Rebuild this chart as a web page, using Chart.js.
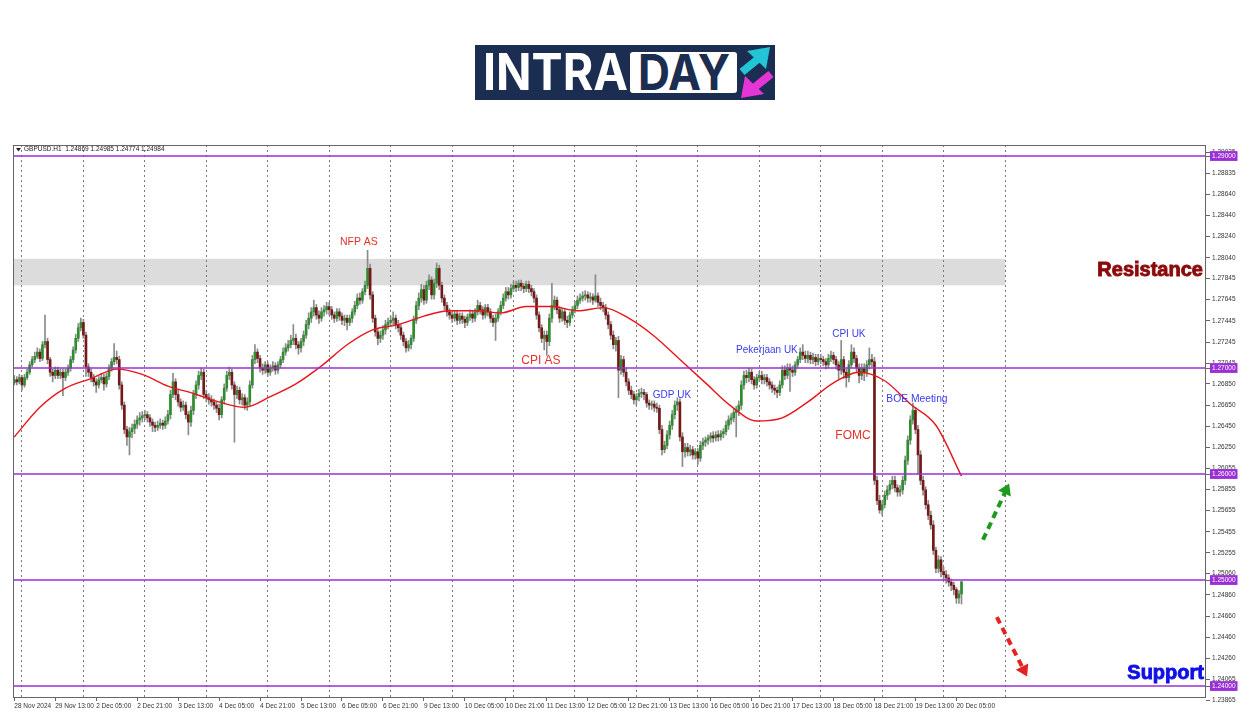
<!DOCTYPE html>
<html lang="en">
<head>
<meta charset="UTF-8">
<title>GBPUSD H1 - Intraday</title>
<script src="https://cdn.jsdelivr.net/npm/chart.js"></script>
<style>
  body { margin: 0; background: #fff; }
  #wrap { position: relative; width: 1250px; height: 716px; overflow: hidden; }
  #chart { position: absolute; left: 0; top: 0; }
  .logo { position: absolute; left: 475px; top: 45px; }
</style>
</head>
<body>
<div id="wrap">
  <svg class="logo" width="300" height="55" viewBox="0 0 300 55">
    <rect width="300" height="55" fill="#1b2d50"/>
    <text x="8" y="45" font-family="Inter, 'Open Sans', sans-serif" font-weight="700" font-size="51" fill="#fff"
          textLength="145" lengthAdjust="spacingAndGlyphs">INTRA</text>
    <rect x="155" y="7" width="107" height="41" rx="3" fill="#fff"/>
    <text x="163" y="45" font-family="Inter, 'Open Sans', sans-serif" font-weight="700" font-size="49" fill="#1b2d50"
          textLength="92" lengthAdjust="spacingAndGlyphs">DAY</text>
    <line x1="267" y1="27" x2="283" y2="14" stroke="#22c5d5" stroke-width="8"/>
    <polygon points="295,2 272,6 291,24" fill="#22c5d5"/>
    <line x1="296" y1="29" x2="280" y2="42" stroke="#e535d6" stroke-width="8"/>
    <polygon points="266,53 270,31 289,49" fill="#e535d6"/>
  </svg>
  <canvas id="chart" width="1250" height="716"></canvas>
</div>

<script>
// ---- data (GBPUSD H1, 28 Nov 21:00 -> 20 Dec 07:00) ----
const symbol = 'GBPUSD.H1';
const firstOpen = 1.2686;

const closes = [
  1.2689, 1.2687, 1.2691, 1.2684, 1.2691, 1.2696, 1.2703, 1.2708, 1.2711, 1.2715,
  1.2709, 1.2722, 1.2725, 1.2708, 1.2696, 1.2693, 1.2698, 1.2693, 1.2696, 1.2691,
  1.2696, 1.2700, 1.2708, 1.2717, 1.2728, 1.2738, 1.2743, 1.2731, 1.2701, 1.2696,
  1.2691, 1.2687, 1.2684, 1.2689, 1.2691, 1.2685, 1.2692, 1.2700, 1.2706, 1.2710,
  1.2708, 1.2684, 1.2665, 1.2642, 1.2635, 1.2640, 1.2643, 1.2647, 1.2651, 1.2653,
  1.2655, 1.2656, 1.2653, 1.2649, 1.2646, 1.2644, 1.2646, 1.2648, 1.2646, 1.2650,
  1.2656, 1.2675, 1.2687, 1.2675, 1.2668, 1.2663, 1.2665, 1.2656, 1.2649, 1.2660,
  1.2675, 1.2684, 1.2693, 1.2696, 1.2675, 1.2672, 1.2670, 1.2668, 1.2665, 1.2662,
  1.2656, 1.2670, 1.2681, 1.2693, 1.2696, 1.2684, 1.2675, 1.2679, 1.2670, 1.2672,
  1.2665, 1.2668, 1.2684, 1.2708, 1.2715, 1.2709, 1.2700, 1.2698, 1.2703, 1.2696,
  1.2700, 1.2702, 1.2698, 1.2703, 1.2708, 1.2715, 1.2719, 1.2722, 1.2726, 1.2728,
  1.2722, 1.2719, 1.2725, 1.2731, 1.2741, 1.2747, 1.2753, 1.2757, 1.2750, 1.2747,
  1.2753, 1.2755, 1.2758, 1.2755, 1.2750, 1.2747, 1.2753, 1.2749, 1.2745, 1.2747,
  1.2743, 1.2747, 1.2753, 1.2759, 1.2766, 1.2764, 1.2772, 1.2778, 1.2794, 1.2769,
  1.2747, 1.2734, 1.2728, 1.2731, 1.2736, 1.2741, 1.2743, 1.2745, 1.2747, 1.2741,
  1.2738, 1.2731, 1.2725, 1.2719, 1.2722, 1.2728, 1.2745, 1.2759, 1.2766, 1.2774,
  1.2764, 1.2778, 1.2783, 1.2769, 1.2780, 1.2794, 1.2778, 1.2766, 1.2759, 1.2753,
  1.2750, 1.2747, 1.2751, 1.2745, 1.2749, 1.2746, 1.2743, 1.2748, 1.2751, 1.2747,
  1.2753, 1.2759, 1.2755, 1.2750, 1.2757, 1.2753, 1.2747, 1.2743, 1.2747, 1.2753,
  1.2759, 1.2766, 1.2772, 1.2769, 1.2775, 1.2778, 1.2776, 1.2780, 1.2777, 1.2775,
  1.2779, 1.2775, 1.2772, 1.2766, 1.2750, 1.2738, 1.2728, 1.2731, 1.2725, 1.2747,
  1.2759, 1.2764, 1.2755, 1.2747, 1.2753, 1.2745, 1.2743, 1.2750, 1.2755, 1.2759,
  1.2764, 1.2766, 1.2768, 1.2769, 1.2766, 1.2767, 1.2764, 1.2768, 1.2762, 1.2759,
  1.2757, 1.2750, 1.2741, 1.2731, 1.2722, 1.2726, 1.2698, 1.2708, 1.2696, 1.2687,
  1.2679, 1.2675, 1.2670, 1.2673, 1.2676, 1.2677, 1.2675, 1.2667, 1.2665, 1.2666,
  1.2663, 1.2662, 1.2642, 1.2623, 1.2627, 1.2637, 1.2646, 1.2656, 1.2665, 1.2668,
  1.2635, 1.2621, 1.2625, 1.2621, 1.2623, 1.2618, 1.2621, 1.2615, 1.2627, 1.2630,
  1.2632, 1.2634, 1.2636, 1.2634, 1.2637, 1.2635, 1.2638, 1.2640, 1.2646, 1.2651,
  1.2653, 1.2658, 1.2660, 1.2665, 1.2684, 1.2693, 1.2691, 1.2696, 1.2689, 1.2684,
  1.2691, 1.2693, 1.2689, 1.2691, 1.2687, 1.2684, 1.2681, 1.2679, 1.2677, 1.2684,
  1.2698, 1.2693, 1.2700, 1.2698, 1.2696, 1.2703, 1.2708, 1.2715, 1.2712, 1.2709,
  1.2712, 1.2708, 1.2710, 1.2706, 1.2709, 1.2708, 1.2706, 1.2703, 1.2709, 1.2712,
  1.2708, 1.2703, 1.2698, 1.2708, 1.2696, 1.2691, 1.2703, 1.2715, 1.2709, 1.2700,
  1.2693, 1.2700, 1.2696, 1.2703, 1.2708, 1.2706, 1.2594, 1.2575, 1.2566, 1.2571,
  1.2580, 1.2585, 1.2590, 1.2594, 1.2587, 1.2583, 1.2585, 1.2594, 1.2613, 1.2632,
  1.2651, 1.2660, 1.2642, 1.2618, 1.2594, 1.2585, 1.2571, 1.2561, 1.2552, 1.2528,
  1.2511, 1.2519, 1.2508, 1.2505, 1.2502, 1.2498, 1.2495, 1.2491, 1.2483, 1.24869, 1.24984
];

const highs = [
  1.2693, 1.2692, 1.2694, 1.2693, 1.2694, 1.2699, 1.2706, 1.2711, 1.2715, 1.2719,
  1.2718, 1.2725, 1.2750, 1.2728, 1.2710, 1.2699, 1.2701, 1.2701, 1.2699, 1.2699,
  1.2699, 1.2703, 1.2711, 1.2720, 1.2732, 1.2742, 1.2747, 1.2746, 1.2734, 1.2704,
  1.2699, 1.2694, 1.2690, 1.2692, 1.2695, 1.2694, 1.2695, 1.2703, 1.2709, 1.2723,
  1.2716, 1.2711, 1.2687, 1.2668, 1.2645, 1.2644, 1.2647, 1.2651, 1.2655, 1.2658,
  1.2659, 1.2660, 1.2659, 1.2656, 1.2652, 1.2649, 1.2650, 1.2652, 1.2651, 1.2654,
  1.2660, 1.2679, 1.2695, 1.2690, 1.2679, 1.2671, 1.2669, 1.2668, 1.2659, 1.2664,
  1.2679, 1.2688, 1.2697, 1.2700, 1.2699, 1.2679, 1.2676, 1.2674, 1.2671, 1.2668,
  1.2666, 1.2673, 1.2685, 1.2697, 1.2701, 1.2699, 1.2687, 1.2683, 1.2682, 1.2676,
  1.2675, 1.2672, 1.2688, 1.2712, 1.2722, 1.2718, 1.2712, 1.2704, 1.2706, 1.2706,
  1.2703, 1.2706, 1.2705, 1.2706, 1.2711, 1.2719, 1.2723, 1.2726, 1.2731, 1.2741,
  1.2732, 1.2725, 1.2728, 1.2735, 1.2745, 1.2752, 1.2757, 1.2764, 1.2760, 1.2754,
  1.2757, 1.2759, 1.2762, 1.2762, 1.2758, 1.2753, 1.2756, 1.2756, 1.2752, 1.2750,
  1.2750, 1.2750, 1.2756, 1.2763, 1.2770, 1.2771, 1.2775, 1.2782, 1.2811, 1.2798,
  1.2772, 1.2750, 1.2737, 1.2735, 1.2740, 1.2745, 1.2747, 1.2749, 1.2753, 1.2750,
  1.2745, 1.2741, 1.2734, 1.2728, 1.2726, 1.2731, 1.2749, 1.2763, 1.2771, 1.2779,
  1.2778, 1.2782, 1.2788, 1.2786, 1.2784, 1.2799, 1.2797, 1.2781, 1.2769, 1.2762,
  1.2756, 1.2753, 1.2754, 1.2754, 1.2752, 1.2752, 1.2749, 1.2751, 1.2755, 1.2754,
  1.2756, 1.2764, 1.2762, 1.2758, 1.2760, 1.2760, 1.2756, 1.2750, 1.2751, 1.2756,
  1.2763, 1.2770, 1.2776, 1.2776, 1.2779, 1.2782, 1.2782, 1.2783, 1.2783, 1.2780,
  1.2782, 1.2782, 1.2778, 1.2775, 1.2769, 1.2753, 1.2741, 1.2735, 1.2735, 1.2751,
  1.2780, 1.2768, 1.2767, 1.2758, 1.2756, 1.2756, 1.2749, 1.2753, 1.2758, 1.2763,
  1.2768, 1.2770, 1.2772, 1.2773, 1.2772, 1.2771, 1.2770, 1.2788, 1.2771, 1.2766,
  1.2762, 1.2760, 1.2753, 1.2744, 1.2735, 1.2729, 1.2730, 1.2712, 1.2711, 1.2700,
  1.2690, 1.2683, 1.2678, 1.2676, 1.2680, 1.2681, 1.2680, 1.2677, 1.2670, 1.2669,
  1.2669, 1.2667, 1.2665, 1.2646, 1.2631, 1.2641, 1.2650, 1.2660, 1.2669, 1.2672,
  1.2671, 1.2639, 1.2629, 1.2629, 1.2627, 1.2626, 1.2624, 1.2624, 1.2631, 1.2634,
  1.2635, 1.2637, 1.2639, 1.2640, 1.2640, 1.2641, 1.2641, 1.2643, 1.2650, 1.2655,
  1.2657, 1.2662, 1.2664, 1.2669, 1.2688, 1.2697, 1.2698, 1.2700, 1.2699, 1.2692,
  1.2694, 1.2697, 1.2697, 1.2694, 1.2694, 1.2690, 1.2687, 1.2684, 1.2682, 1.2688,
  1.2702, 1.2702, 1.2704, 1.2704, 1.2702, 1.2706, 1.2711, 1.2719, 1.2722, 1.2716,
  1.2716, 1.2715, 1.2714, 1.2713, 1.2713, 1.2713, 1.2711, 1.2709, 1.2713, 1.2716,
  1.2715, 1.2711, 1.2706, 1.2726, 1.2711, 1.2699, 1.2707, 1.2722, 1.2719, 1.2712,
  1.2704, 1.2704, 1.2704, 1.2707, 1.2719, 1.2713, 1.2710, 1.2598, 1.2580, 1.2575,
  1.2584, 1.2589, 1.2594, 1.2598, 1.2598, 1.2590, 1.2589, 1.2598, 1.2617, 1.2636,
  1.2655, 1.2667, 1.2663, 1.2646, 1.2622, 1.2598, 1.2588, 1.2575, 1.2565, 1.2556,
  1.2531, 1.2523, 1.2522, 1.2512, 1.2509, 1.2505, 1.2501, 1.2498, 1.2493, 1.2490, 1.24985
];

const lows = [
  1.2684, 1.2684, 1.2685, 1.2679, 1.2682, 1.2689, 1.2694, 1.2701, 1.2705, 1.2709,
  1.2706, 1.2707, 1.2719, 1.2704, 1.2692, 1.2687, 1.2690, 1.2690, 1.2690, 1.2674,
  1.2688, 1.2693, 1.2697, 1.2705, 1.2714, 1.2725, 1.2735, 1.2728, 1.2692, 1.2692,
  1.2687, 1.2683, 1.2677, 1.2681, 1.2686, 1.2679, 1.2682, 1.2689, 1.2697, 1.2703,
  1.2704, 1.2680, 1.2661, 1.2638, 1.2627, 1.2618, 1.2634, 1.2638, 1.2643, 1.2646,
  1.2649, 1.2651, 1.2649, 1.2645, 1.2640, 1.2640, 1.2641, 1.2643, 1.2642, 1.2643,
  1.2647, 1.2652, 1.2672, 1.2670, 1.2664, 1.2659, 1.2660, 1.2652, 1.2637, 1.2645,
  1.2656, 1.2671, 1.2680, 1.2689, 1.2671, 1.2668, 1.2666, 1.2664, 1.2661, 1.2658,
  1.2651, 1.2653, 1.2666, 1.2678, 1.2689, 1.2680, 1.2630, 1.2671, 1.2666, 1.2665,
  1.2661, 1.2660, 1.2664, 1.2681, 1.2704, 1.2705, 1.2696, 1.2694, 1.2695, 1.2692,
  1.2693, 1.2697, 1.2694, 1.2695, 1.2700, 1.2705, 1.2712, 1.2716, 1.2719, 1.2722,
  1.2718, 1.2713, 1.2715, 1.2721, 1.2728, 1.2737, 1.2743, 1.2749, 1.2746, 1.2742,
  1.2744, 1.2749, 1.2751, 1.2750, 1.2746, 1.2743, 1.2744, 1.2745, 1.2741, 1.2740,
  1.2736, 1.2740, 1.2743, 1.2750, 1.2756, 1.2760, 1.2761, 1.2769, 1.2775, 1.2765,
  1.2743, 1.2730, 1.2722, 1.2724, 1.2727, 1.2732, 1.2737, 1.2739, 1.2741, 1.2737,
  1.2734, 1.2727, 1.2721, 1.2715, 1.2716, 1.2718, 1.2725, 1.2742, 1.2755, 1.2762,
  1.2760, 1.2761, 1.2774, 1.2765, 1.2765, 1.2776, 1.2774, 1.2762, 1.2755, 1.2749,
  1.2746, 1.2743, 1.2744, 1.2741, 1.2742, 1.2742, 1.2738, 1.2740, 1.2745, 1.2743,
  1.2744, 1.2750, 1.2751, 1.2746, 1.2747, 1.2749, 1.2743, 1.2739, 1.2726, 1.2744,
  1.2750, 1.2756, 1.2763, 1.2765, 1.2766, 1.2772, 1.2772, 1.2773, 1.2773, 1.2771,
  1.2772, 1.2771, 1.2768, 1.2762, 1.2746, 1.2734, 1.2724, 1.2717, 1.2712, 1.2721,
  1.2743, 1.2755, 1.2751, 1.2743, 1.2744, 1.2741, 1.2738, 1.2740, 1.2747, 1.2752,
  1.2756, 1.2761, 1.2763, 1.2764, 1.2762, 1.2762, 1.2760, 1.2762, 1.2758, 1.2755,
  1.2753, 1.2746, 1.2737, 1.2727, 1.2718, 1.2716, 1.2672, 1.2694, 1.2692, 1.2683,
  1.2675, 1.2671, 1.2666, 1.2665, 1.2669, 1.2672, 1.2670, 1.2663, 1.2661, 1.2661,
  1.2659, 1.2658, 1.2638, 1.2618, 1.2620, 1.2624, 1.2633, 1.2642, 1.2652, 1.2660,
  1.2631, 1.2607, 1.2616, 1.2617, 1.2617, 1.2614, 1.2614, 1.2609, 1.2612, 1.2623,
  1.2626, 1.2628, 1.2630, 1.2630, 1.2631, 1.2631, 1.2632, 1.2634, 1.2637, 1.2642,
  1.2647, 1.2649, 1.2635, 1.2655, 1.2661, 1.2680, 1.2686, 1.2687, 1.2685, 1.2680,
  1.2681, 1.2687, 1.2685, 1.2685, 1.2683, 1.2680, 1.2677, 1.2675, 1.2672, 1.2674,
  1.2681, 1.2689, 1.2690, 1.2678, 1.2692, 1.2693, 1.2700, 1.2705, 1.2708, 1.2705,
  1.2705, 1.2704, 1.2704, 1.2702, 1.2703, 1.2704, 1.2702, 1.2699, 1.2700, 1.2706,
  1.2704, 1.2699, 1.2690, 1.2694, 1.2690, 1.2682, 1.2687, 1.2700, 1.2705, 1.2696,
  1.2686, 1.2689, 1.2688, 1.2692, 1.2699, 1.2701, 1.2590, 1.2571, 1.2563, 1.2561,
  1.2568, 1.2576, 1.2581, 1.2586, 1.2583, 1.2579, 1.2579, 1.2581, 1.2590, 1.2609,
  1.2628, 1.2647, 1.2638, 1.2600, 1.2590, 1.2580, 1.2567, 1.2557, 1.2548, 1.2524,
  1.2507, 1.2507, 1.2503, 1.2500, 1.2497, 1.2494, 1.2490, 1.2486, 1.2478, 1.2478, 1.24774
];

// moving average, one value every 10 bars
const maStep = 10;
const maValues = [
  1.2635, 1.2663, 1.2681, 1.2690, 1.2699, 1.2694, 1.2683, 1.2676, 1.2668, 1.2663,
  1.2673, 1.2685, 1.2702, 1.2722, 1.2736, 1.2741, 1.2749, 1.2754, 1.2754, 1.2752,
  1.2758, 1.2758, 1.2754, 1.2757, 1.2747, 1.2730, 1.2708, 1.2686, 1.2664, 1.2650,
  1.2653, 1.2668, 1.2686, 1.2696, 1.2688, 1.2666, 1.2646, 1.2598
];

const xLabels = ['28 Nov 2024', '29 Nov 13:00', '2 Dec 05:00', '2 Dec 21:00', '3 Dec 13:00',
  '4 Dec 05:00', '4 Dec 21:00', '5 Dec 13:00', '6 Dec 05:00', '6 Dec 21:00', '9 Dec 13:00',
  '10 Dec 05:00', '10 Dec 21:00', '11 Dec 13:00', '12 Dec 05:00', '12 Dec 21:00', '13 Dec 13:00',
  '16 Dec 05:00', '16 Dec 21:00', '17 Dec 13:00', '18 Dec 05:00', '18 Dec 21:00', '19 Dec 13:00',
  '20 Dec 05:00'];
const labelEvery = 16;            // bars between time labels
const dayBreaks = [3, 27, 51, 75, 99, 123, 147, 171, 195, 219, 243, 267, 291, 315, 339, 363, 387];

const yTicks = [1.29035, 1.28835, 1.28640, 1.28440, 1.28240, 1.28040, 1.27845, 1.27645, 1.27445,
  1.27245, 1.27045, 1.26850, 1.26650, 1.26450, 1.26250, 1.26055, 1.25855, 1.25655, 1.25455,
  1.25255, 1.25060, 1.24860, 1.24660, 1.24460, 1.24260, 1.24065, 1.23865];
const levels = [1.29, 1.27, 1.26, 1.25, 1.24];
const zone = [1.2778, 1.2803];    // resistance band
const zoneEndBar = 387;

const notes = [
  { text: 'NFP AS', bar: 134.6, price: 1.2819, color: '#e8302a', size: 10.5 },
  { text: 'CPI AS', bar: 205.7, price: 1.2707, color: '#e8302a', size: 12 },
  { text: 'GDP UK', bar: 256.9, price: 1.2674, color: '#3b3bf0', size: 10 },
  { text: 'Pekerjaan UK', bar: 294, price: 1.2717, color: '#3b3bf0', size: 10 },
  { text: 'CPI UK', bar: 326, price: 1.2732, color: '#3b3bf0', size: 10 },
  { text: 'FOMC', bar: 327.6, price: 1.2636, color: '#e8302a', size: 12 },
  { text: 'BOE Meeting', bar: 352.6, price: 1.2671, color: '#3b3bf0', size: 10.3 },
  { text: 'Resistance', bar: 464.3, price: 1.2792, color: '#8b0a0a', size: 20, bold: true, align: 'right' },
  { text: 'Support', bar: 464.7, price: 1.2412, color: '#1010e6', size: 20, bold: true, align: 'right' }
];
const arrows = [
  { from: [378.4, 1.2538], to: [388.6, 1.2591], color: '#1e9a1e' },
  { from: [383.8, 1.2465], to: [395.6, 1.2409], color: '#e52222' }
];

// ---- build ----
const opens = [firstOpen, ...closes.slice(0, -1)];
const n = closes.length;
const bodies = closes.map((c, i) => ({ x: i, y: [opens[i], c] }));
const wicks = closes.map((c, i) => ({ x: i, y: [lows[i], highs[i]] }));
const bodyColors = closes.map((c, i) => c >= opens[i] ? '#2f8c2f' : '#741818');
const ma = maValues.map((v, i) => ({ x: i * maStep, y: v }));

Chart.defaults.font.family = '"Liberation Sans", Arial, sans-serif';
Chart.defaults.color = '#333';

const overlay = {
  id: 'overlay',
  beforeDraw(chart) {
    const { ctx, chartArea: a, scales: { x, y } } = chart;
    ctx.save();
    ctx.fillStyle = '#dcdcdc';
    const zr = x.getPixelForValue(zoneEndBar);
    const zt = y.getPixelForValue(zone[1]), zb = y.getPixelForValue(zone[0]);
    ctx.fillRect(a.left, zt, zr - a.left, zb - zt);
    ctx.restore();
  },
  afterDatasetsDraw(chart) {
    const { ctx, chartArea: a, scales: { x, y } } = chart;
    ctx.save();

    // key levels
    ctx.strokeStyle = '#9b2fd6';
    ctx.lineWidth = 1.5;
    levels.forEach(v => {
      const py = y.getPixelForValue(v);
      ctx.beginPath(); ctx.moveTo(a.left, py); ctx.lineTo(a.right, py); ctx.stroke();
    });

    // event notes + zone names
    ctx.textBaseline = 'middle';
    notes.forEach(t => {
      ctx.font = (t.bold ? 'bold ' : '') + t.size + 'px "Liberation Sans", Arial, sans-serif';
      ctx.fillStyle = t.color;
      ctx.textAlign = t.align || 'center';
      const px = x.getPixelForValue(t.bar), py = y.getPixelForValue(t.price);
      ctx.fillText(t.text, px, py);
      if (t.bold) { ctx.strokeStyle = t.color; ctx.lineWidth = 0.9; ctx.strokeText(t.text, px, py); }
    });

    // dashed scenario arrows
    arrows.forEach(ar => {
      const x0 = x.getPixelForValue(ar.from[0]), y0 = y.getPixelForValue(ar.from[1]);
      const x1 = x.getPixelForValue(ar.to[0]), y1 = y.getPixelForValue(ar.to[1]);
      const len = Math.hypot(x1 - x0, y1 - y0);
      const ux = (x1 - x0) / len, uy = (y1 - y0) / len;
      ctx.strokeStyle = ar.color; ctx.fillStyle = ar.color;
      ctx.lineWidth = 4; ctx.setLineDash([7, 5]);
      ctx.beginPath(); ctx.moveTo(x0, y0); ctx.lineTo(x1 - ux * 9, y1 - uy * 9); ctx.stroke();
      ctx.setLineDash([]);
      ctx.beginPath();
      ctx.moveTo(x1, y1);
      ctx.lineTo(x1 - ux * 11 - uy * 7, y1 - uy * 11 + ux * 7);
      ctx.lineTo(x1 - ux * 11 + uy * 7, y1 - uy * 11 - ux * 7);
      ctx.closePath(); ctx.fill();
    });

    // frame
    ctx.strokeStyle = '#666'; ctx.lineWidth = 1;
    ctx.strokeRect(a.left + 0.5, a.top + 0.5, a.width - 1, a.height - 1);

    // header with last bar OHLC
    const last = n - 1;
    ctx.fillStyle = '#222';
    ctx.beginPath();
    ctx.moveTo(a.left + 3, a.top + 3); ctx.lineTo(a.left + 8, a.top + 3); ctx.lineTo(a.left + 5.5, a.top + 6.5);
    ctx.closePath(); ctx.fill();
    ctx.font = '6.5px "Liberation Sans", Arial, sans-serif';
    ctx.textAlign = 'left';
    ctx.fillText(symbol + '  ' + [opens[last], highs[last], lows[last], closes[last]].map(v => v.toFixed(5)).join(' '),
      a.left + 11, a.top + 4.5);
    ctx.restore();
  }
};

new Chart(document.getElementById('chart'), {
  type: 'bar',
  data: {
    datasets: [
      { type: 'line', data: ma, borderColor: '#e8151b', borderWidth: 1.4, pointRadius: 0,
        cubicInterpolationMode: 'monotone', order: 1 },
      { data: bodies, backgroundColor: bodyColors, barThickness: 2, grouped: false,
        minBarLength: 1, order: 2 },
      { data: wicks, backgroundColor: '#8a8a8a', barThickness: 1, grouped: false, order: 3 }
    ]
  },
  options: {
    responsive: false,
    animation: false,
    layout: { padding: { top: 145, left: 13, right: 0, bottom: 0 } },
    plugins: { legend: { display: false }, tooltip: { enabled: false } },
    scales: {
      x: {
        type: 'linear', min: -0.5, max: 465.5, bounds: 'data', offset: false,
        afterBuildTicks: s => { s.ticks = xLabels.map((l, i) => ({ value: i * labelEvery })); },
        afterFit: s => { s.height = 18; },
        ticks: {
          autoSkip: false, maxRotation: 0, minRotation: 0, align: 'start', padding: 1,
          font: { size: 6.5 }, color: '#333',
          callback: v => xLabels[v / labelEvery]
        },
        grid: { drawOnChartArea: false, tickLength: 3, color: '#666', offset: false },
        border: { display: false }
      },
      xg: {
        type: 'linear', position: 'bottom', min: -0.5, max: 465.5, bounds: 'data', offset: false,
        afterBuildTicks: s => { s.ticks = dayBreaks.map(v => ({ value: v })); },
        afterFit: s => { s.height = 0; },
        ticks: { display: false },
        grid: { color: '#7a7a7a', drawTicks: false, offset: false },
        border: { display: false, dash: [2, 3] }
      },
      y: {
        type: 'linear', position: 'right', min: 1.23887, max: 1.29104, bounds: 'data',
        afterBuildTicks: s => { s.ticks = [...yTicks, ...levels].map(v => ({ value: v })); },
        afterFit: s => { s.width = 44; },
        ticks: {
          autoSkip: false, padding: 2, font: { size: 6.5 },
          callback: v => v.toFixed(5),
          color: c => levels.includes(c.tick.value) ? '#fff' : '#333',
          showLabelBackdrop: c => levels.includes(c.tick.value),
          backdropColor: '#9b2fd6',
          backdropPadding: { x: 2, y: 1 }
        },
        grid: { drawOnChartArea: false, tickLength: 4, color: '#666' },
        border: { display: false }
      }
    }
  },
  plugins: [overlay]
});
</script>
</body>
</html>
